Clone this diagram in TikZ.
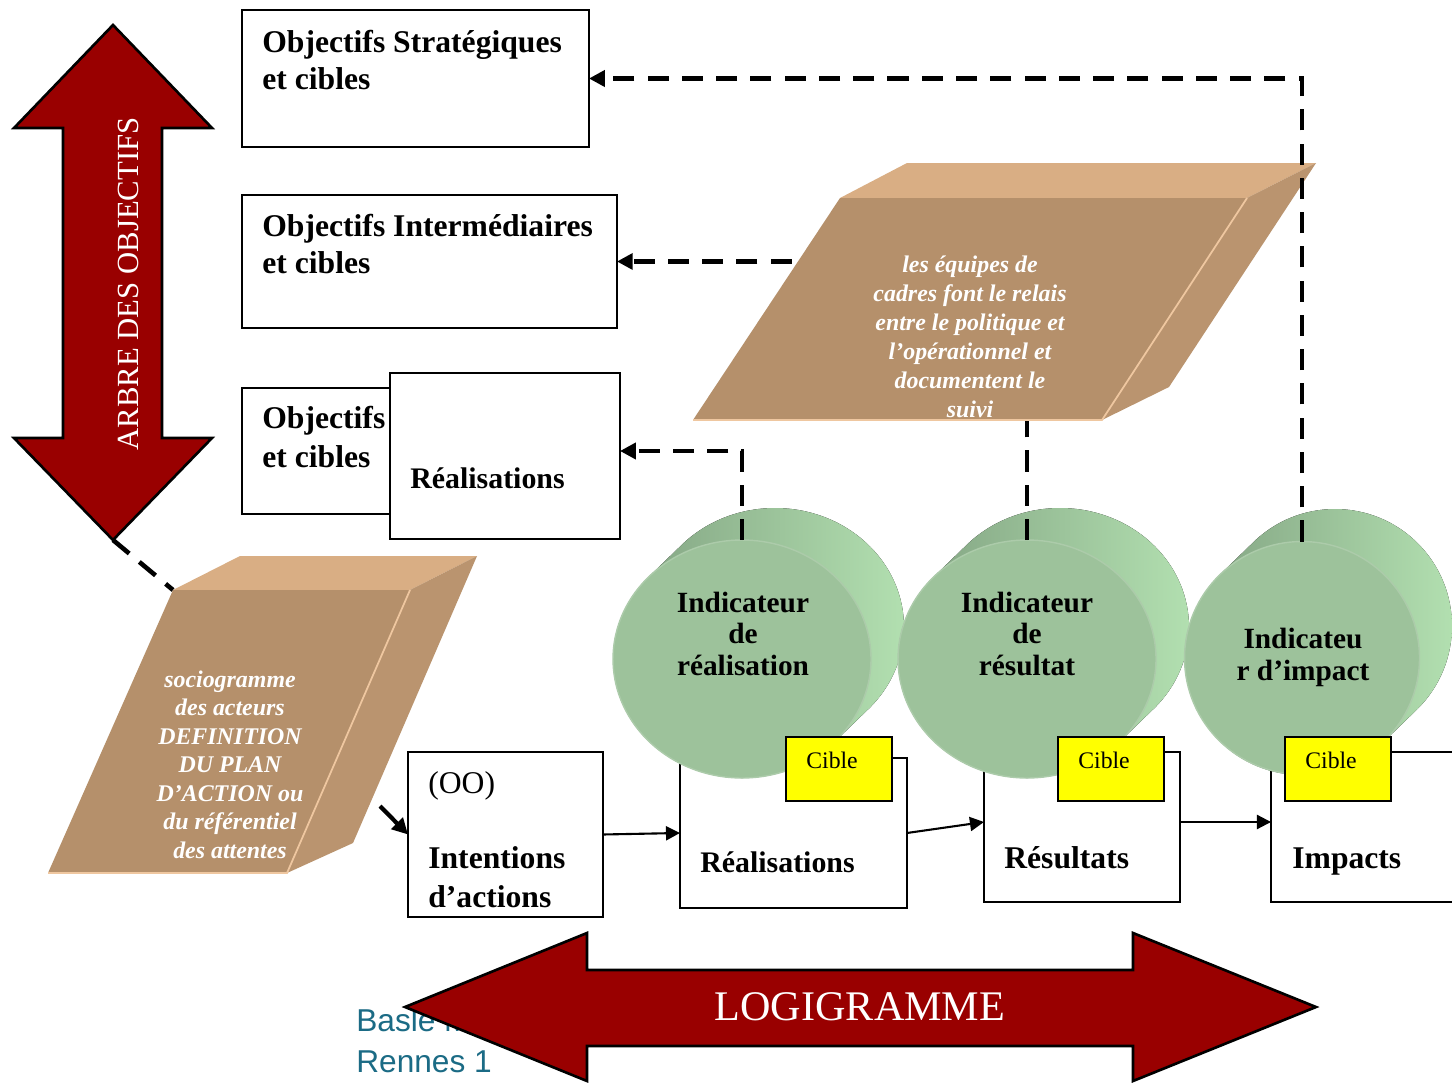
\documentclass[tikz,border=0pt]{standalone}
\usepackage{fontspec}
\setmainfont{Liberation Serif}
\newfontfamily\basfont{Liberation Sans}
\usetikzlibrary{arrows.meta,shapes.geometric,positioning}

\definecolor{rougefonce}{HTML}{990000}
\definecolor{tanface}{HTML}{B5906B}
\definecolor{tanhaut}{HTML}{D9AE84}
\definecolor{tancote}{HTML}{BA946F}
\definecolor{tanclair}{HTML}{EFC7A0}
\definecolor{vertface}{HTML}{9DC29B}
\definecolor{cylsombre}{HTML}{7E9E7E}
\definecolor{cylclair}{HTML}{B4E2B2}
\definecolor{jaunecible}{HTML}{FFFF00}
\definecolor{bleubasle}{HTML}{1B6B85}

% fond d'un cylindre : centre x, centre y, rayon x, rayon y
\newcommand{\cylfond}[4]{%
  \fill[left color=cylsombre, right color=cylclair]
    ({#1+33+#3*cos(225)},{#2-32+#4*sin(225)})
    arc[start angle=225, end angle=405, x radius=#3, y radius=#4]
    -- ({#1+#3*cos(45)},{#2+#4*sin(45)})
    arc[start angle=45, end angle=225, x radius=#3, y radius=#4]
    -- cycle;}

\begin{document}
\begin{tikzpicture}[x=0.02cm, y=-0.02cm,
    boite/.style={draw, line width=1.4pt, fill=white, rectangle, inner sep=0pt,
      outer sep=0pt, anchor=north west},
    objtxt/.style={font=\bfseries\fontsize{18}{21}\selectfont, align=left, inner sep=0pt},
    parttxt/.style={text=white, font=\bfseries\itshape\fontsize{13.6}{16.4}\selectfont,
      align=center, inner sep=0pt},
    indtxt/.style={font=\bfseries\fontsize{16.7}{17.9}\selectfont, align=center, inner sep=0pt},
    cibletxt/.style={font=\fontsize{13.5}{16}\selectfont, inner sep=0pt, anchor=base west},
    disque/.style={ellipse, fill=vertface, draw=vertface!85!white, line width=0.8pt,
      inner sep=0pt, outer sep=0pt},
    grandefleche/.style={fill=rougefonce, draw=black, line width=1.5pt, line join=miter},
    pointille/.style={line width=2.6pt, dash pattern=on 12pt off 7.5pt,
      -{Triangle[length=9pt,width=9pt]}},
    fleche/.style={line width=1.2pt, -{Triangle[length=8pt,width=8pt]}}]

  \useasboundingbox (0,0) rectangle (1452,1082);
  \fill[white] (0,0) rectangle (1452,1082);
  \clip (0,0) rectangle (1452,1082);

  % texte de bas de page, en partie cache
  \node[anchor=base west, font=\basfont\fontsize{18}{22.8}\selectfont, text=bleubasle,
    align=left, inner sep=0pt] (basle) at (356,1072) {Basle M.\\Rennes 1};

  % arbre des objectifs
  \node[boite, minimum width=6.94cm, minimum height=2.74cm] (strat) at (242,10) {};
  \node[objtxt, anchor=base west] at (262,89) {Objectifs Stratégiques\\et cibles};
  \node[boite, minimum width=7.5cm, minimum height=2.66cm] (inter) at (242,195) {};
  \node[objtxt, anchor=base west] at (262,273) {Objectifs Intermédiaires\\et cibles};
  \node[boite, minimum width=3.16cm, minimum height=2.52cm] (objcib) at (242,388) {};
  \node[objtxt, anchor=base west, font=\bfseries\fontsize{18}{22}\selectfont]
    at (262,467) {Objectifs\\et cibles};
  \node[boite, minimum width=4.6cm, minimum height=3.32cm] (realobj) at (390,373) {};
  \node[objtxt, anchor=base west, font=\bfseries\fontsize{17}{20}\selectfont]
    at (410,488) {Réalisations};

  \draw[grandefleche] (113,25) -- (212,128) -- (162,128) -- (162,438) -- (212,438)
    -- (113,540) -- (14,438) -- (63,438) -- (63,128) -- (14,128) -- cycle;
  \node[rotate=90, text=white, font=\fontsize{17.5}{20}\selectfont] (arbre)
    at (128,284) {ARBRE DES OBJECTIFS};
  \coordinate (arbrebas) at (113,540);

  % sociogramme
  \coordinate (pBbg) at (48,873);
  \coordinate (pBbd) at (287,873);
  \coordinate (pBhd) at (410,590);
  \coordinate (pBhg) at (173,590);
  \coordinate (pBfg) at (240,556);
  \coordinate (pBfd) at (477,556);
  \coordinate (pBcb) at (353,843);
  \draw[line width=2.6pt, dash pattern=on 12pt off 7.5pt] (arbrebas) -- (pBhg);
  \fill[tanhaut] (pBhg) -- (pBfg) -- (pBfd) -- (pBhd) -- cycle;
  \fill[tancote] (pBhd) -- (pBfd) -- (pBcb) -- (pBbd) -- cycle;
  \fill[tanface] (pBbg) -- (pBbd) -- (pBhd) -- (pBhg) -- cycle;
  \draw[tanclair, line width=1pt] (pBbg) -- (pBbd) -- (pBhd);
  \node[parttxt, anchor=base, font=\bfseries\itshape\fontsize{13.6}{16.2}\selectfont]
    (socio) at (230,858)
    {sociogramme\\des acteurs\\DEFINITION\\DU PLAN\\D’ACTION ou\\du référentiel\\des attentes};

  % logigramme
  \node[boite, minimum width=3.9cm, minimum height=3.3cm] (intent) at (408,752) {};
  \node[anchor=base west, inner sep=0pt, font=\fontsize{18}{21}\selectfont]
    at (428,793) {(OO)};
  \node[objtxt, anchor=base west, font=\bfseries\fontsize{18}{22}\selectfont]
    at (428,907) {Intentions\\d’actions};
  \node[boite, minimum width=4.54cm, minimum height=3cm] (realbas) at (680,758) {};
  \node[objtxt, anchor=base west, font=\bfseries\fontsize{17}{20}\selectfont]
    at (700,872) {Réalisations};
  \node[boite, minimum width=3.92cm, minimum height=3cm] (resultats) at (984,752) {};
  \node[objtxt, anchor=base west] at (1004,868) {Résultats};
  \node[boite, minimum width=4.18cm, minimum height=3cm] (impacts) at (1271,752) {};
  \node[objtxt, anchor=base west] at (1292,868) {Impacts};

  \coordinate (amorce) at (380,806);
  \draw[fleche, line width=2.4pt, -{Triangle[length=9pt,width=9pt]}] (amorce) -- (intent.west);
  \draw[fleche] (intent.east) -- (realbas.west);
  \draw[fleche] (realbas.east) -- ([yshift=0.1cm]resultats.west);
  \draw[fleche] ([yshift=0.1cm]resultats.east) -- ([yshift=0.1cm]impacts.west);

  % indicateurs
  \cylfond{742}{659}{129}{119}
  \node[disque, minimum width=5.16cm, minimum height=4.76cm] (indreal) at (742,659) {};
  \node[indtxt, anchor=base] at (743,675) {Indicateur\\de\\réalisation};
  \cylfond{1027}{659}{129}{119}
  \node[disque, minimum width=5.16cm, minimum height=4.76cm] (indres) at (1027,659) {};
  \node[indtxt, anchor=base] at (1027,675) {Indicateur\\de\\résultat};
  \cylfond{1302}{658}{117}{117}
  \node[disque, minimum width=4.7cm, minimum height=4.66cm] (indimp) at (1302,658) {};
  \node[indtxt, anchor=base] at (1303,680) {Indicateu\\r d’impact};

  \draw[pointille] (indreal.north) |- ([yshift=0.1cm]realobj.east);
  \draw[pointille] (indres.north) |- (inter.east);

  % equipes de cadres
  \coordinate (pAbg) at (693,420);
  \coordinate (pAbd) at (1102,420);
  \coordinate (pAhd) at (1247,198);
  \coordinate (pAhg) at (840,198);
  \coordinate (pAfg) at (907,163);
  \coordinate (pAfd) at (1316,163);
  \coordinate (pAcb) at (1169,387);
  \fill[tanhaut] (pAhg) -- (pAfg) -- (pAfd) -- (pAhd) -- cycle;
  \fill[tancote] (pAhd) -- (pAfd) -- (pAcb) -- (pAbd) -- cycle;
  \fill[tanface] (pAbg) -- (pAbd) -- (pAhd) -- (pAhg) -- cycle;
  \draw[tanclair, line width=1pt] (pAbg) -- (pAbd) -- (pAhd);
  \node[parttxt, anchor=base] (relais) at (970,417)
    {les équipes de\\cadres font le relais\\entre le politique et\\l’opérationnel et\\documentent le\\suivi};

  \draw[pointille] (indimp.north) |- (strat.east);

  % cibles
  \node[boite, fill=jaunecible, minimum width=2.12cm, minimum height=1.28cm] (cible1) at (786,737) {};
  \node[cibletxt] at (806,768) {Cible};
  \node[boite, fill=jaunecible, minimum width=2.12cm, minimum height=1.28cm] (cible2) at (1058,737) {};
  \node[cibletxt] at (1078,768) {Cible};
  \node[boite, fill=jaunecible, minimum width=2.12cm, minimum height=1.28cm] (cible3) at (1285,737) {};
  \node[cibletxt] at (1305,768) {Cible};

  % fleche du logigramme
  \draw[grandefleche] (405,1007) -- (587,933) -- (587,970) -- (1133,970) -- (1133,933)
    -- (1316,1007) -- (1133,1081) -- (1133,1046) -- (587,1046) -- (587,1081) -- cycle;
  \node[text=white, font=\fontsize{24}{28}\selectfont] (logi) at (860,1007) {LOGIGRAMME};
\end{tikzpicture}
\end{document}
